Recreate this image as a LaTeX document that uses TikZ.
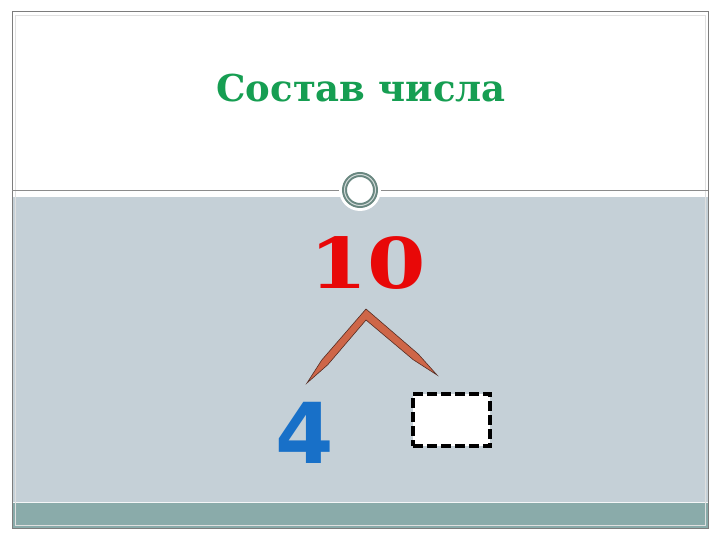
\documentclass[tikz,border=0pt]{standalone}
\usepackage{fontspec}
\usepackage{graphicx}
\setmainfont{DejaVu Serif}
\newfontfamily\titlefont{DejaVu Serif}
\newfontfamily\digitfont{DejaVu Sans}
\definecolor{titlegreen}{RGB}{22,158,82}
\definecolor{numred}{RGB}{232,8,8}
\definecolor{numblue}{RGB}{24,112,200}
\definecolor{panelgray}{RGB}{197,208,215}
\definecolor{barteal}{RGB}{138,171,170}
\definecolor{framegray}{RGB}{125,125,125}
\definecolor{ringteal}{RGB}{105,135,128}
\definecolor{chevfill}{RGB}{206,102,72}
\definecolor{chevline}{RGB}{85,45,35}
\tikzset{
  titletext/.style={font=\titlefont\bfseries\fontsize{37}{37}\selectfont, text=titlegreen, inner sep=0pt},
  bignum/.style={font=\titlefont\bfseries\fontsize{70}{70}\selectfont, text=numred, inner sep=0pt},
  partnum/.style={font=\digitfont\bfseries\fontsize{84}{84}\selectfont, text=numblue, inner sep=0pt},
  dashbox/.style={draw=black, fill=white, line width=3.5pt, dash pattern=on 10pt off 4pt, minimum width=77pt, minimum height=52pt, inner sep=0pt},
}
\begin{document}
\begin{tikzpicture}[x=1pt,y=-1pt]
\useasboundingbox (0,0) rectangle (720,540);
% slide background
\fill[white] (0,0) rectangle (720,540);
\fill[panelgray] (12,197) rectangle (708,502);
\fill[barteal] (12,502) rectangle (708,528);
\draw[white!80!panelgray, line width=1pt] (12,502) -- (708,502);
\draw[framegray, line width=1pt] (12,12) rectangle (708,528);
\draw[black!12, line width=0.8pt] (15,15) rectangle (705,525);
% separator
\draw[black!45, line width=1.3pt] (12,190.5) -- (708,190.5);
% ring
\fill[white] (360,190) circle (21);
\draw[ringteal, line width=5pt] (360,190) circle (15.5);
\draw[white!70!ringteal, line width=1pt] (360,190) circle (15.5);
% title
\node[titletext, anchor=base] (title) at (361,102) {Состав числа};
% number
\node[bignum, anchor=base] (ten) at (367.5,288) {\scalebox{1.2}[1]{10}};
\node[partnum, anchor=base] (four) at (305,463) {4};
\node[dashbox] (blank) at (451.5,420) {};
% chevron
\fill[chevfill, draw=chevline, line width=0.6pt]
  (307,383) -- (321.7,360.1) -- (366,309) -- (418.2,354) -- (437,375)
  -- (413.2,359.7) -- (366,320) -- (327.7,364.8) -- cycle;
\end{tikzpicture}
\end{document}
